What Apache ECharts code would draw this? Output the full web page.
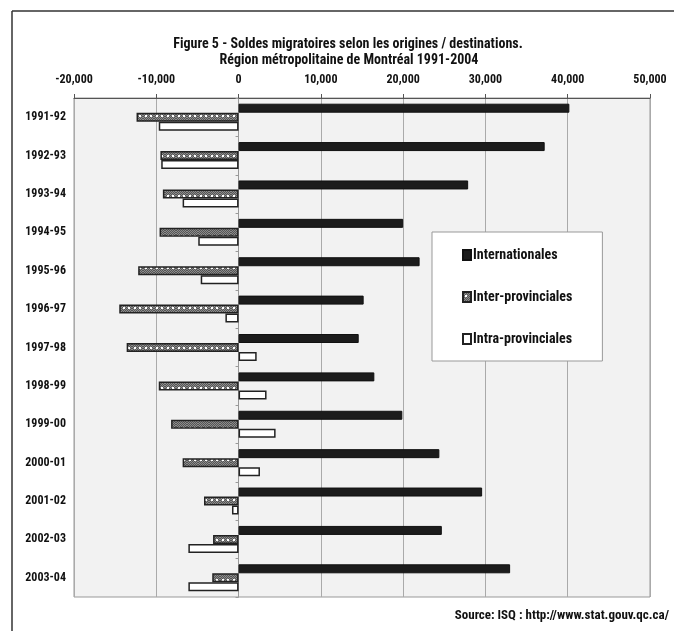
<!DOCTYPE html>
<html>
<head>
<meta charset="utf-8">
<script src="https://cdn.jsdelivr.net/npm/echarts@6/dist/echarts.min.js"></script>
<style>
  html, body { margin: 0; padding: 0; background: #fff; }
  #chart { width: 674px; height: 631px; }
</style>
</head>
<body>
<div id="chart"></div>
<script>
// Migration balances by origin / destination, Montréal metropolitan region
const periods = ['1991-92', '1992-93', '1993-94', '1994-95', '1995-96', '1996-97', '1997-98',
                 '1998-99', '1999-00', '2000-01', '2001-02', '2002-03', '2003-04'];
const internationales = [40200, 37200, 27900, 20000, 22000, 15200, 14600, 16500, 19900, 24400, 29600, 24700, 33000];
const interProvinciales = [-12400, -9500, -9200, -9600, -12200, -14500, -13600, -9700, -8200, -6800, -4200, -3100, -3200];
const intraProvinciales = [-9700, -9400, -6800, -4900, -4600, -1600, 2200, 3400, 4500, 2600, -800, -6100, -6100];
const seriesNames = ['Internationales', 'Inter-provinciales', 'Intra-provinciales'];
const axisMin = -20000, axisMax = 50000, axisStep = 10000;

const FONT = "'Roboto Condensed', 'Liberation Sans', sans-serif";

// Dotted grey hatch used for the inter-provincial bars
function hatchPattern() {
  const c = document.createElement('canvas');
  c.width = 11; c.height = 8;
  const g = c.getContext('2d');
  g.fillStyle = '#8c8c8c';
  g.fillRect(0, 0, 11, 8);
  g.fillStyle = '#555555';
  for (let y = 0; y < 8; y++) {
    for (let x = 0; x < 11; x++) {
      if ((x + y) % 2 === 0) g.fillRect(x, y, 1, 1);
    }
  }
  g.fillStyle = '#ffffff';
  g.fillRect(2, 3, 2, 2);
  g.fillRect(7, 3, 2, 2);
  return { image: c, repeat: 'repeat' };
}

const chart = echarts.init(document.getElementById('chart'), null, { renderer: 'canvas' });

const gridLeft = 74, gridRight = 24;
const plotWidth = 674 - gridLeft - gridRight;
const zeroOffset = plotWidth * (0 - axisMin) / (axisMax - axisMin);

chart.setOption({
  animation: false,
  textStyle: { fontFamily: FONT },
  grid: {
    left: gridLeft, right: gridRight, top: 98, bottom: 34,
    show: true, backgroundColor: '#f2f2f2', borderColor: '#999', borderWidth: 1
  },
  xAxis: {
    type: 'value', position: 'top',
    min: axisMin, max: axisMax, interval: axisStep,
    axisLine: { show: true, lineStyle: { color: '#555', width: 1 } },
    axisTick: { show: true, length: 4, lineStyle: { color: '#555' } },
    splitLine: { show: true, lineStyle: { color: '#aaa', width: 1 } },
    axisLabel: {
      margin: 12, color: '#111', fontWeight: 'bold', fontSize: 12, fontFamily: FONT,
      formatter: v => v.toLocaleString('en-US')
    }
  },
  yAxis: [{
    type: 'category', data: periods, inverse: true,
    axisLine: { show: false }, axisTick: { show: false },
    axisLabel: { margin: 8, color: '#111', fontWeight: 'bold', fontSize: 12, fontFamily: FONT }
  }, {
    // zero line with its small category ticks
    type: 'category', data: periods, inverse: true, position: 'left',
    offset: -zeroOffset,
    axisLine: { show: true, onZero: false, lineStyle: { color: '#999' } },
    axisTick: { show: true, length: 3, lineStyle: { color: '#999' } },
    axisLabel: { show: false }
  }],
  legend: {
    orient: 'vertical', left: 432, top: 232,
    padding: [16, 30, 15, 30], itemGap: 28,
    itemWidth: 8, itemHeight: 10, icon: 'rect',
    backgroundColor: '#fff', borderColor: '#999', borderWidth: 1,
    textStyle: { color: '#111', fontWeight: 'bold', fontSize: 14, fontFamily: FONT, padding: [0, 0, 0, -3] },
    data: seriesNames
  },
  series: [{
    name: seriesNames[0], type: 'bar', data: internationales,
    barWidth: 9, barGap: '0%',
    itemStyle: { color: '#1c1c1c', borderColor: '#111', borderWidth: 1 }
  }, {
    name: seriesNames[1], type: 'bar', data: interProvinciales,
    barWidth: 9, barGap: '0%',
    itemStyle: { color: hatchPattern(), borderColor: '#222', borderWidth: 1.5 }
  }, {
    name: seriesNames[2], type: 'bar', data: intraProvinciales,
    barWidth: 9, barGap: '0%',
    itemStyle: { color: '#ffffff', borderColor: '#222', borderWidth: 1.5 }
  }],
  graphic: [
    { type: 'line', shape: { x1: 12, y1: 11, x2: 674, y2: 11 }, style: { stroke: '#333', lineWidth: 1.5 } },
    { type: 'line', shape: { x1: 12, y1: 11, x2: 12, y2: 631 }, style: { stroke: '#333', lineWidth: 1.5 } },
    { type: 'text', x: 348, y: 44, style: {
        text: 'Figure 5 - Soldes migratoires selon les origines / destinations.',
        fill: '#111', font: 'bold 14px ' + FONT, textAlign: 'center', textVerticalAlign: 'middle' } },
    { type: 'text', x: 349, y: 60, style: {
        text: 'Région métropolitaine de Montréal 1991-2004',
        fill: '#111', font: 'bold 14px ' + FONT, textAlign: 'center', textVerticalAlign: 'middle' } },
    { type: 'text', x: 669, y: 616, style: {
        text: 'Source: ISQ : http://www.stat.gouv.qc.ca/',
        fill: '#111', font: 'bold 13px ' + FONT, textAlign: 'right', textVerticalAlign: 'middle' } }
  ]
});
</script>
</body>
</html>
